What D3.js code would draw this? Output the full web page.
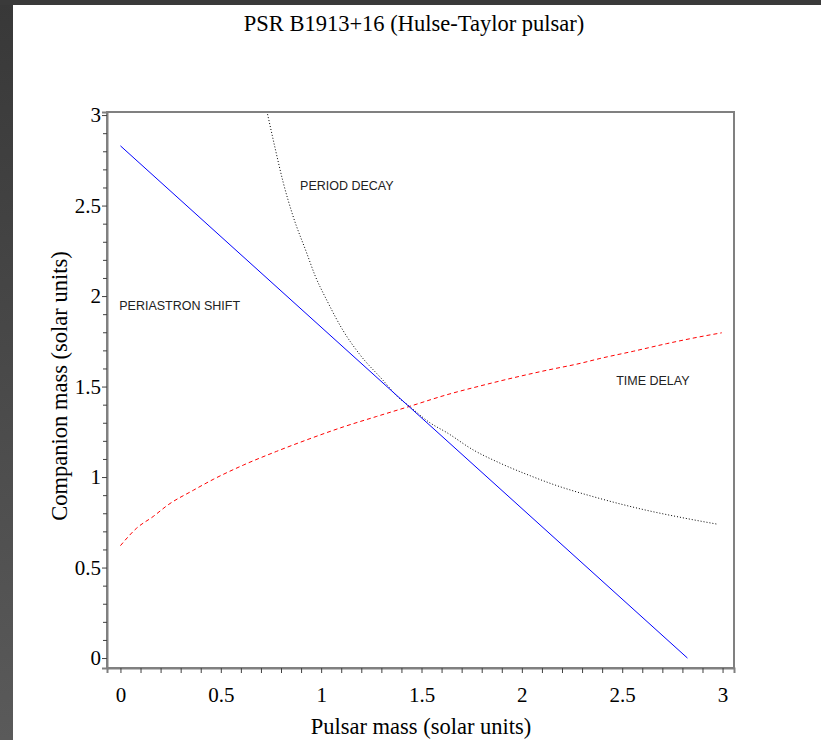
<meta charset="utf-8">
<style>
    body{
        margin: 0;
        background: #fff;
    }
    svg{
        display: block;
    }
    .tick text{
        font-family: "Liberation Serif", "Times New Roman", serif;
        font-size: 21px;
        fill: #000;
    }
</style>
<script src="https://cdn.jsdelivr.net/npm/d3@7"></script>
<body>
    <div id="chart"></div>
</body>
<script>
    // pulsar mass (x) vs companion mass (y)
    var shiftX = [0, 2.825];
    var shiftY = [2.83, 0];

    var decayX = [0.733, 0.770, 0.810, 0.859, 0.929, 0.969, 1.029, 1.109, 1.194, 1.308, 1.378, 1.442, 1.542, 1.627, 1.756, 1.891, 2.040, 2.155, 2.374, 2.623, 2.788, 2.977];
    var decayY = [3.005, 2.820, 2.632, 2.445, 2.235, 2.115, 1.975, 1.810, 1.675, 1.535, 1.447, 1.389, 1.300, 1.245, 1.151, 1.077, 1.008, 0.960, 0.886, 0.816, 0.778, 0.739];

    var delayX = [0.0, 0.081, 0.163, 0.238, 0.363, 0.462, 0.612, 0.778, 0.944, 1.110, 1.277, 1.442, 1.627, 1.791, 1.956, 2.124, 2.290, 2.389, 2.555, 2.721, 2.887, 2.996];
    var delayY = [0.621, 0.718, 0.782, 0.847, 0.927, 0.987, 1.066, 1.142, 1.212, 1.277, 1.335, 1.391, 1.455, 1.503, 1.548, 1.590, 1.628, 1.655, 1.695, 1.737, 1.775, 1.797];

    var labelText = ["PERIOD DECAY", "PERIASTRON SHIFT", "TIME DELAY"];
    var labelX = [0.895, -0.006, 2.47];
    var labelY = [2.586, 1.922, 1.510];

    var tickValues = d3.range(0, 31).map(function(i){ return i/10; });
    var tickLabels = ["0", "0.5", "1", "1.5", "2", "2.5", "3"];

    var width = 821, height = 740;

    var svg = d3.select("#chart")
                .append("svg")
                .attr("width", width)
                .attr("height", height);

    // dark window edge, left and top
    var grad = svg.append("defs").append("linearGradient")
                  .attr("id", "edge")
                  .attr("x1", 0).attr("y1", 0).attr("x2", 0).attr("y2", 1);
    grad.append("stop").attr("offset", "0%").attr("stop-color", "#383838");
    grad.append("stop").attr("offset", "100%").attr("stop-color", "#5a5a5a");
    svg.append("rect").attr("x", 0).attr("y", 0).attr("width", 13).attr("height", height).attr("fill", "url(#edge)");
    svg.append("rect").attr("x", 0).attr("y", 0).attr("width", width).attr("height", 5).attr("fill", "#3a3a3a");

    var x = d3.scaleLinear().domain([-0.067, 3.057]).range([107, 734]);
    var y = d3.scaleLinear().domain([-0.055, 3.017]).range([668, 112]);

    function fmt(d){
        var s = d3.format(".1f")(d).replace(".0", "");
        return tickLabels.indexOf(s) >= 0 ? s : "";
    }
    function isMajor(d){ return Math.abs(d*2 - Math.round(d*2)) < 1e-6; }

    // frame
    svg.append("rect")
       .attr("x", x.range()[0])
       .attr("y", y.range()[1])
       .attr("width", x.range()[1] - x.range()[0])
       .attr("height", y.range()[0] - y.range()[1])
       .attr("fill", "none")
       .attr("stroke", "#808080")
       .attr("stroke-width", 2);

    var xAxis = svg.append("g")
                   .attr("transform", "translate(0," + y.range()[0] + ")")
                   .call(d3.axisBottom(x).tickValues(tickValues).tickFormat(fmt).tickSize(5).tickSizeOuter(5).tickPadding(14));
    var yAxis = svg.append("g")
                   .attr("transform", "translate(" + x.range()[0] + ",0)")
                   .call(d3.axisLeft(y).tickValues(tickValues).tickFormat(fmt).tickSize(4).tickSizeOuter(5).tickPadding(2));

    [xAxis, yAxis].forEach(function(g){
        g.select(".domain").attr("stroke", "#808080").attr("stroke-width", 2);
        g.selectAll(".tick line").attr("stroke", "#404040");
    });
    yAxis.selectAll(".tick line").attr("x2", function(d){ return isMajor(d) ? -5 : -4; });
    xAxis.selectAll(".tick text").attr("dy", "0.71em");

    // curves
    var line = d3.line()
                 .x(function(d){ return x(d[0]); })
                 .y(function(d){ return y(d[1]); })
                 .curve(d3.curveMonotoneX);

    function pairs(xs, ys){ return xs.map(function(v, i){ return [v, ys[i]]; }); }

    svg.append("path")
       .attr("d", line(pairs(delayX, delayY)))
       .attr("fill", "none")
       .attr("stroke", "#ff0000")
       .attr("stroke-width", 1)
       .attr("stroke-dasharray", "4,3");

    svg.append("path")
       .attr("d", line(pairs(decayX, decayY)))
       .attr("fill", "none")
       .attr("stroke", "#000")
       .attr("stroke-width", 1)
       .attr("stroke-dasharray", "1,2");

    svg.append("path")
       .attr("d", d3.line().x(function(d){ return x(d[0]); }).y(function(d){ return y(d[1]); })(pairs(shiftX, shiftY)))
       .attr("fill", "none")
       .attr("stroke", "#0000ff")
       .attr("stroke-width", 1);

    // curve names
    svg.selectAll(".lbl")
       .data(labelText)
       .enter().append("text")
       .attr("class", "lbl")
       .attr("x", function(d, i){ return x(labelX[i]); })
       .attr("y", function(d, i){ return y(labelY[i]); })
       .attr("font-family", "'Liberation Sans', Arial, sans-serif")
       .attr("font-size", "12.5px")
       .attr("fill", "#222")
       .text(function(d){ return d; });

    // titles
    svg.append("text")
       .attr("x", 414)
       .attr("y", 31)
       .attr("text-anchor", "middle")
       .attr("font-family", "'Liberation Serif', 'Times New Roman', serif")
       .attr("font-size", "22.5px")
       .text("PSR B1913+16 (Hulse-Taylor pulsar)");

    svg.append("text")
       .attr("x", 421)
       .attr("y", 734)
       .attr("text-anchor", "middle")
       .attr("font-family", "'Liberation Serif', 'Times New Roman', serif")
       .attr("font-size", "22.5px")
       .text("Pulsar mass (solar units)");

    svg.append("text")
       .attr("transform", "translate(67,386) rotate(-90)")
       .attr("text-anchor", "middle")
       .attr("font-family", "'Liberation Serif', 'Times New Roman', serif")
       .attr("font-size", "22.5px")
       .text("Companion mass (solar units)");
</script>
